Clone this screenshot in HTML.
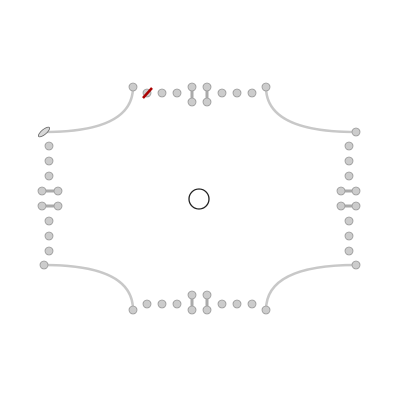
<!DOCTYPE html>
<html><head><meta charset="utf-8"><style>
html,body{margin:0;padding:0;background:#fff;width:402px;height:402px;overflow:hidden}
svg{display:block}
</style></head><body>
<svg id="chart" width="402" height="402">
<g id="edges"></g>
<g id="nodes"></g>
</svg>
<script>
// node data (graph coordinates)
const singleNodesX = [162,177,222,237,252, 147,162,177,222,237,252];
const singleNodesY = [93,93,93,93,93, 304,304,304,304,304,304];
const sideNodesX = [49,49,49,49,49,49, 349,349,349,349,349,349];
const sideNodesY = [146,161,176,221,236,251, 146,161,176,221,236,251];
const pairA = [[192,87],[207,87],[192,295],[207,295],[42,191],[42,206],[341,191],[341,206]];
const pairB = [[192,102],[207,102],[192,310],[207,310],[58,191],[58,206],[356,191],[356,206]];
const cornerNodes = [[133,87],[266,87],[133,310],[266,310],[44,265],[356,132],[356,265]];
const curves = [[44,132,133,87,133,132],[266,87,356,132,266,132],[44,265,133,310,133,265],[356,265,266,310,266,265]];
const centerNode = [199,199,10];

const NS="http://www.w3.org/2000/svg";
const E=document.getElementById('edges'), N=document.getElementById('nodes');
function mk(tag,attrs,parent){const el=document.createElementNS(NS,tag);for(const k in attrs)el.setAttribute(k,attrs[k]);parent.appendChild(el);return el;}
curves.forEach(c=>{
  const p=mk('path',{d:`M${c[0]},${c[1]} Q${c[4]},${c[5]} ${c[2]},${c[3]}`,fill:'none',stroke:'#c8c8c8','stroke-width':2.5},E);
  
  
});
pairA.forEach((a,i)=>{
  const b=pairB[i];
  const l=mk('line',{x1:a[0],y1:a[1],x2:b[0],y2:b[1],stroke:'#aaa','stroke-width':3},E);
  
  
});
function dot(x,y){
  const c=mk('circle',{cx:x,cy:y,r:4,fill:'#cccccc',stroke:'#999','stroke-width':0.8},N);
  
  
}
singleNodesX.forEach((x,i)=>dot(x,singleNodesY[i]));
sideNodesX.forEach((x,i)=>dot(x,sideNodesY[i]));
pairA.forEach(p=>dot(p[0],p[1]));
pairB.forEach(p=>dot(p[0],p[1]));
cornerNodes.forEach(p=>dot(p[0],p[1]));
// special nodes
const s1=mk('ellipse',{cx:44,cy:132,rx:7,ry:2.5,fill:'#d8d8d8',stroke:'#666','stroke-width':0.8,transform:'rotate(-40 44 132)'},N);


const s2=mk('circle',{cx:147,cy:93,r:4,fill:'#cccccc',stroke:'#999','stroke-width':0.8},N);


const s3=mk('line',{x1:143,y1:98,x2:152,y2:88,stroke:'#a00','stroke-width':2.5},N);


const cc=mk('circle',{cx:centerNode[0],cy:centerNode[1],r:centerNode[2],fill:'#fff',stroke:'#222','stroke-width':1.3},N);


</script>
</body></html>
